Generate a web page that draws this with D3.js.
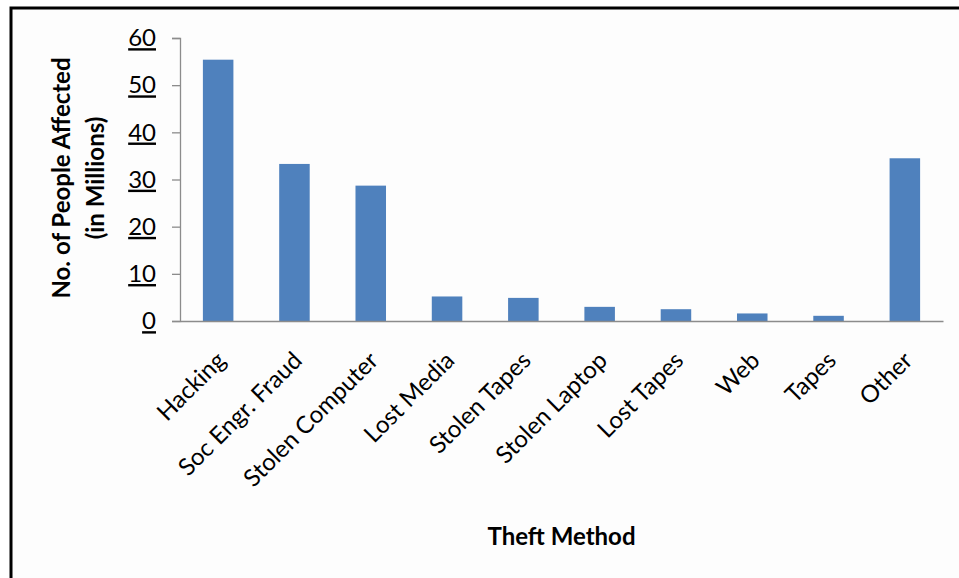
<!DOCTYPE html>
<html><head><meta charset="utf-8">
<script src="https://cdn.jsdelivr.net/npm/d3@7"></script>
<style>
html,body{margin:0;padding:0;background:#fff;}
svg{display:block;}
</style></head>
<body>
<svg id="chart" width="959" height="578"></svg>
<script>
const categories = ["Hacking","Soc Engr. Fraud","Stolen Computer","Lost Media","Stolen Tapes","Stolen Laptop","Lost Tapes","Web","Tapes","Other"];
const values = [55.4, 33.3, 28.7, 5.2, 4.9, 3.0, 2.5, 1.6, 1.1, 34.5];
const yTicks = [0,10,20,30,40,50,60];

const svg = d3.select("#chart");
const W = 959, H = 578;
const font = "Lato, 'Open Sans', sans-serif";

// frame
svg.append("rect").attr("x",0).attr("y",0).attr("width",W).attr("height",H).attr("fill","#fff");
svg.append("rect").attr("x",11).attr("y",8).attr("width",W+10).attr("height",H+10)
  .attr("fill","#fdfdfd").attr("stroke","#000").attr("stroke-width",3);

const plot = {left:180, right:943, top:38, bottom:321};
const x = d3.scaleBand().domain(categories).range([plot.left, plot.right]).paddingInner(0.6).paddingOuter(0.3);
const y = d3.scaleLinear().domain([0,60]).range([plot.bottom, plot.top]);

// bars
svg.append("g").selectAll("rect").data(values).join("rect")
  .attr("x",(d,i)=>x(categories[i]))
  .attr("y",d=>y(d))
  .attr("width",x.bandwidth())
  .attr("height",d=>y(0)-y(d))
  .attr("fill","#4f81bd");

// y axis
const yAxis = d3.axisLeft(y).tickValues(yTicks).tickSize(8).tickPadding(16);
const gy = svg.append("g").attr("transform",`translate(${plot.left},0)`).call(yAxis);
gy.select(".domain").attr("stroke","#8c8c8c").attr("stroke-width",1.3);
gy.selectAll(".tick line").attr("stroke","#8c8c8c").attr("stroke-width",1.3);
gy.selectAll(".tick text").attr("font-family",font).attr("font-size",24).attr("fill","#000")
  .attr("text-decoration","underline");

// x axis
const xAxis = d3.axisBottom(x).tickSize(0).tickPadding(0);
const gx = svg.append("g").attr("transform",`translate(0,${plot.bottom})`).call(xAxis);
gx.select(".domain").attr("stroke","#8c8c8c").attr("stroke-width",1.3);
gx.selectAll(".tick text")
  .attr("font-family",font).attr("font-size",24).attr("fill","#000")
  .attr("text-anchor","end")
  .attr("dy",null).attr("y",null)
  .attr("transform","translate(9,41) rotate(-45)");

// axis titles
svg.append("text").attr("transform",`translate(70,178) rotate(-90)`)
  .attr("text-anchor","middle").attr("font-family",font).attr("font-weight","bold")
  .attr("font-size",24).attr("fill","#000").text("No. of People Affected");
svg.append("text").attr("transform",`translate(104,178) rotate(-90)`)
  .attr("text-anchor","middle").attr("font-family",font).attr("font-weight","bold")
  .attr("font-size",24).attr("fill","#000").text("(in Millions)");
svg.append("text").attr("x",(plot.left+plot.right)/2).attr("y",545)
  .attr("text-anchor","middle").attr("font-family",font).attr("font-weight","bold")
  .attr("font-size",24).attr("fill","#000").text("Theft Method");
</script>
</body></html>
